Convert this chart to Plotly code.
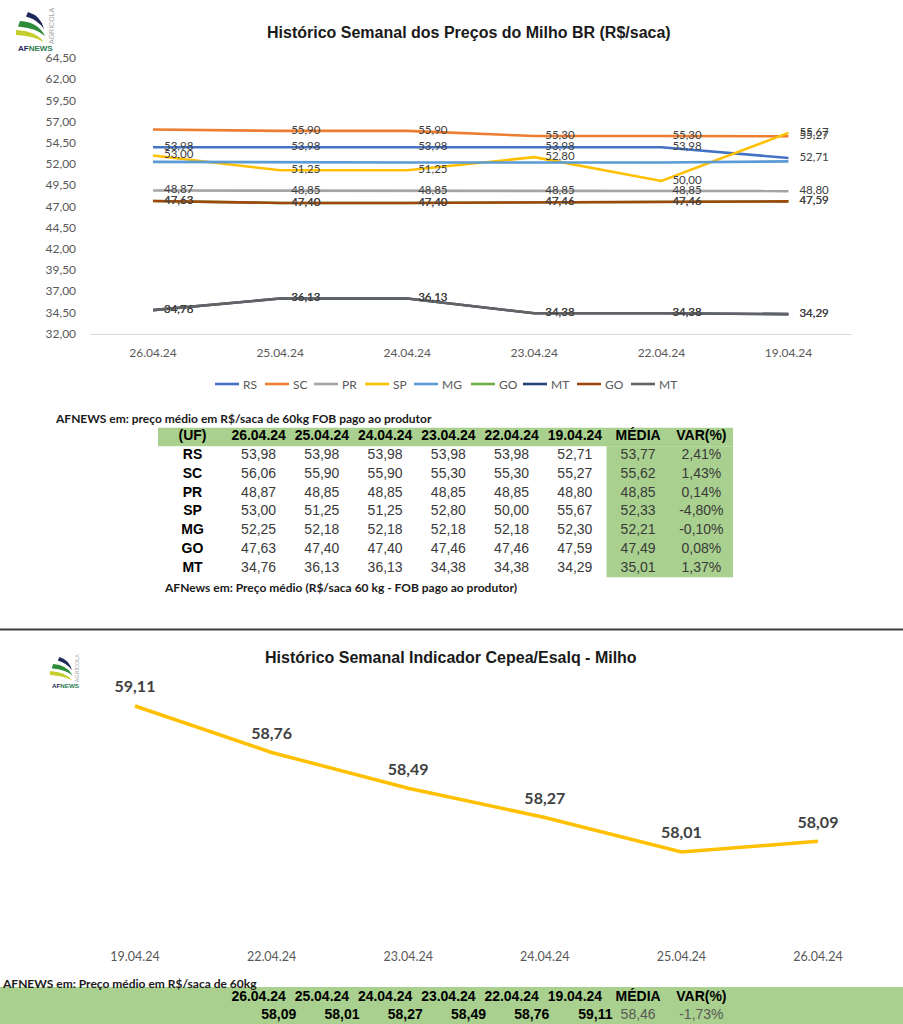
import plotly.graph_objects as go

W, H = 903, 1024


def X(px):
    return min(max(px / W, 0), 1)


def Y(py):
    return min(max(1 - py / H, 0), 1)


def br(v, suffix=""):
    return f"{v:.2f}".replace(".", ",") + suffix


# ---------------- data ----------------
dates_top = ["26.04.24", "25.04.24", "24.04.24", "23.04.24", "22.04.24", "19.04.24"]
series_names = ["RS", "SC", "PR", "SP", "MG", "GO", "MT", "GO", "MT"]
rs = [53.98, 53.98, 53.98, 53.98, 53.98, 52.71]
sc = [56.06, 55.90, 55.90, 55.30, 55.30, 55.27]
pr = [48.87, 48.85, 48.85, 48.85, 48.85, 48.80]
sp = [53.00, 51.25, 51.25, 52.80, 50.00, 55.67]
mg = [52.25, 52.18, 52.18, 52.18, 52.18, 52.30]
go_vals = [47.63, 47.40, 47.40, 47.46, 47.46, 47.59]
mt = [34.76, 36.13, 36.13, 34.38, 34.38, 34.29]
y_ticks_top = [32.0, 34.5, 37.0, 39.5, 42.0, 44.5, 47.0, 49.5, 52.0, 54.5, 57.0, 59.5, 62.0, 64.5]

table_header = ["(UF)", "26.04.24", "25.04.24", "24.04.24", "23.04.24", "22.04.24", "19.04.24", "MÉDIA", "VAR(%)"]
table_states = ["RS", "SC", "PR", "SP", "MG", "GO", "MT"]
table_media = [53.77, 55.62, 48.85, 52.33, 52.21, 47.49, 35.01]
table_var = [2.41, 1.43, 0.14, -4.80, -0.10, 0.08, 1.37]

cepea_dates = ["19.04.24", "22.04.24", "23.04.24", "24.04.24", "25.04.24", "26.04.24"]
cepea_vals = [59.11, 58.76, 58.49, 58.27, 58.01, 58.09]
cepea_header = ["26.04.24", "25.04.24", "24.04.24", "23.04.24", "22.04.24", "19.04.24", "MÉDIA", "VAR(%)"]
cepea_row = [58.09, 58.01, 58.27, 58.49, 58.76, 59.11]
cepea_media = 58.46
cepea_var = -1.73

# ---------------- style / layout constants ----------------
colors = ["#4472C4", "#ED7D31", "#A5A5A5", "#FFC000", "#5B9BD5",
          "#70AD47", "#264478", "#9E480E", "#636363"]
legend_x_px = [215, 265, 314, 365, 414, 471, 523, 577, 631]   # legend entry starts (px)
GREEN = "#A9D08E"
CAL = "Lato, Carlito, Calibri, sans-serif"
ARIAL = "Liberation Sans, Arial, sans-serif"

fig = go.Figure()

# ---------------- top line chart ----------------
series_data = [rs, sc, pr, sp, mg, go_vals, mt, go_vals, mt]
label_mask = [
    [1] * 6,
    [0, 1, 1, 1, 1, 1],
    [1] * 6,
    [1] * 6,
    [0] * 6,
    [1] * 6,
    [1] * 6,
    [1] * 6,
    [1] * 6,
]
for name, vals, col, mask in zip(series_names, series_data, colors, label_mask):
    fig.add_trace(go.Scatter(
        x=dates_top, y=vals, name=name, mode="lines+markers+text",
        line=dict(color=col, width=2.6),
        marker=dict(size=16, color="rgba(0,0,0,0)"),
        text=[br(v) if m else "" for v, m in zip(vals, mask)],
        textposition="middle right",
        textfont=dict(family=CAL, size=11.5, color="#404040"),
        cliponaxis=False, hoverinfo="skip", showlegend=False,
        xaxis="x", yaxis="y",
    ))

# ---------------- bottom line chart ----------------
fig.add_trace(go.Scatter(
    x=cepea_dates, y=cepea_vals, mode="lines+markers+text",
    line=dict(color="#FFC000", width=3.5),
    marker=dict(size=14, color="rgba(0,0,0,0)"),
    text=[br(v) for v in cepea_vals], textposition="top center",
    textfont=dict(family=CAL, size=16, color="#404040", weight="bold"),
    cliponaxis=False, showlegend=False, hoverinfo="skip",
    xaxis="x2", yaxis="y2",
))

# ---------------- top table (text on hidden axes) ----------------
col_w = [69] + [63.25] * 8
edges = [0]
for w in col_w:
    edges.append(edges[-1] + w)
centers = [(edges[i] + edges[i + 1]) / 2 for i in range(len(col_w))]


def text_trace(xs, ys, texts, color, xa, ya, pos="middle center", size=14):
    return go.Scatter(
        x=xs, y=ys, mode="text", text=texts, textposition=pos,
        textfont=dict(family=ARIAL, size=size, color=color),
        showlegend=False, hoverinfo="skip", cliponaxis=False,
        xaxis=xa, yaxis=ya,
    )


fig.add_trace(text_trace(centers, [0] * len(table_header),
                         [f"<b>{h}</b>" for h in table_header], "#000000", "x3", "y3"))
fig.add_trace(text_trace([centers[0]] * len(table_states), list(range(1, 8)),
                         [f"<b>{s}</b>" for s in table_states], "#000000", "x3", "y3"))
for ci in range(6):
    fig.add_trace(text_trace([centers[ci + 1]] * 7, list(range(1, 8)),
                             [br(series_data[r][ci]) for r in range(7)], "#3A3A3A", "x3", "y3"))
fig.add_trace(text_trace([centers[7]] * 7, list(range(1, 8)),
                         [br(v) for v in table_media], "#3A3A3A", "x3", "y3"))
fig.add_trace(text_trace([centers[8]] * 7, list(range(1, 8)),
                         [br(v, "%") for v in table_var], "#3A3A3A", "x3", "y3"))

# ---------------- bottom table ----------------
fig.add_trace(text_trace(centers[1:], [0] * len(cepea_header),
                         [f"<b>{h}</b>" for h in cepea_header], "#000000", "x4", "y4"))
fig.add_trace(text_trace([edges[i + 2] + 6 for i in range(6)], [1] * 6,
                         [f"<b>{br(v)}</b>" for v in cepea_row], "#000000", "x4", "y4",
                         pos="middle left"))
fig.add_trace(text_trace([centers[7], centers[8]], [1, 1],
                         [br(cepea_media), br(cepea_var, "%")], "#595959", "x4", "y4"))

# ---------------- shapes ----------------
shapes = []
shapes.append(dict(type="rect", xref="x3", yref="y3", x0=0, x1=edges[-1], y0=-0.5, y1=0.5,
                   fillcolor=GREEN, line=dict(width=0), layer="below"))
shapes.append(dict(type="rect", xref="x3", yref="y3", x0=edges[7], x1=edges[-1], y0=0.5, y1=7.5,
                   fillcolor=GREEN, line=dict(width=0), layer="below"))
shapes.append(dict(type="rect", xref="paper", yref="paper", x0=0, x1=1, y0=0, y1=Y(987),
                   fillcolor=GREEN, line=dict(width=0), layer="below"))
shapes.append(dict(type="line", xref="paper", yref="paper", x0=0, x1=1, y0=Y(629.5), y1=Y(629.5),
                   line=dict(color="#3F3F3F", width=2)))

# custom legend (Excel style: short line sample + label)
legend_anns = []
for name, col, lx in zip(series_names, colors, legend_x_px):
    shapes.append(dict(type="line", xref="paper", yref="paper", x0=X(lx), x1=X(lx + 24),
                       y0=Y(384), y1=Y(384), line=dict(color=col, width=2.6)))
    legend_anns.append(dict(x=X(lx + 26), y=Y(384), xref="paper", yref="paper", xanchor="left",
                            yanchor="middle", showarrow=False, text=name,
                            font=dict(family=CAL, size=12, color="#595959")))


def logo(ox, oy, s):
    crescents = [
        ("#1F2A5C", [(20, 8), (33, 12), (36, 25), (30, 16), (18, 12.5)]),
        ("#2E8B3A", [(12, 17), (30, 18), (37, 32), (28, 24), (10, 22.5)]),
        ("#C5CD2C", [(8, 26), (28, 27), (36, 38), (26, 32), (8, 31)]),
    ]
    out = []
    for colr, pts in crescents:
        p = [(X(ox + s * a), Y(oy + s * b)) for a, b in pts]
        path = (f"M {p[0][0]:.5f},{p[0][1]:.5f} Q {p[1][0]:.5f},{p[1][1]:.5f} {p[2][0]:.5f},{p[2][1]:.5f} "
                f"Q {p[3][0]:.5f},{p[3][1]:.5f} {p[4][0]:.5f},{p[4][1]:.5f} Z")
        out.append(dict(type="path", xref="paper", yref="paper", path=path,
                        fillcolor=colr, line=dict(width=0)))
    anns = [
        dict(x=X(ox + s * 8), y=Y(oy + s * 44), xref="paper", yref="paper", xanchor="left", yanchor="middle",
             text="<b>AF<span style='color:#2E7D4F'>NEWS</span></b>", showarrow=False,
             font=dict(family=ARIAL, size=8 * s, color="#1F2A5C")),
        dict(x=X(ox + s * 43), y=Y(oy + s * 22), xref="paper", yref="paper", xanchor="center", yanchor="middle",
             text="AGRÍCOLA", textangle=-90, showarrow=False,
             font=dict(family=ARIAL, size=7 * s, color="#A6A6A6")),
    ]
    return out, anns


l1s, l1a = logo(8, 4, 1.0)
l2s, l2a = logo(43.8, 650.8, 0.78)
shapes += l1s + l2s

annotations = [
    dict(x=X(469), y=Y(32), xref="paper", yref="paper", showarrow=False, yanchor="middle",
         text="<b>Histórico Semanal dos Preços do Milho BR (R$/saca)</b>",
         font=dict(family=ARIAL, size=16, color="#1A1A1A")),
    dict(x=X(451), y=Y(657), xref="paper", yref="paper", showarrow=False, yanchor="middle",
         text="<b>Histórico Semanal Indicador Cepea/Esalq - Milho</b>",
         font=dict(family=ARIAL, size=16, color="#1A1A1A")),
    dict(x=X(53), y=Y(418), xref="paper", yref="paper", showarrow=False, xanchor="left", yanchor="middle",
         text="<b>AFNEWS em: preço médio em R$/saca de 60kg FOB pago ao produtor</b>",
         font=dict(family=CAL, size=12, color="#1A1A1A")),
    dict(x=X(162), y=Y(587), xref="paper", yref="paper", showarrow=False, xanchor="left", yanchor="middle",
         text="<b>AFNews em: Preço médio (R$/saca 60 kg - FOB pago ao produtor)</b>",
         font=dict(family=CAL, size=12, color="#1A1A1A")),
    dict(x=X(0), y=Y(983), xref="paper", yref="paper", showarrow=False, xanchor="left", yanchor="middle",
         text="<b>AFNEWS em: Preço médio em R$/saca de 60kg</b>",
         font=dict(family=CAL, size=12, color="#1A1A1A")),
] + legend_anns + l1a + l2a

fig.update_layout(
    width=W, height=H, margin=dict(l=0, r=0, t=0, b=0, autoexpand=False),
    paper_bgcolor="white", plot_bgcolor="white",
    showlegend=False,
    xaxis=dict(domain=[X(89.5), X(852)], anchor="y", type="category", range=[-0.5, 5.5],
               showgrid=False, showline=True, linecolor="#D9D9D9", linewidth=1, zeroline=False,
               ticks="outside", ticklen=8, tickcolor="rgba(0,0,0,0)", automargin=False,
               tickfont=dict(family=CAL, size=12, color="#595959"), fixedrange=True),
    yaxis=dict(domain=[Y(333.5), Y(58)], anchor="x", range=[31.999, 64.501],
               tickvals=y_ticks_top, ticktext=[br(v) for v in y_ticks_top],
               showgrid=False, zeroline=False, showline=False, automargin=False,
               ticks="outside", ticklen=10, tickcolor="rgba(0,0,0,0)",
               tickfont=dict(family=CAL, size=12, color="#595959"), fixedrange=True),
    xaxis2=dict(domain=[X(66.7), X(886.3)], anchor="y2", type="category", range=[-0.5, 5.5],
                showgrid=False, showline=False, zeroline=False, ticks="outside", ticklen=2,
                automargin=False, tickcolor="rgba(0,0,0,0)",
                tickfont=dict(family=CAL, size=12.5, color="#595959"), fixedrange=True),
    yaxis2=dict(domain=[Y(943), Y(680)], anchor="x2", range=[57.324, 59.306],
                visible=False, fixedrange=True),
    xaxis3=dict(domain=[X(158), X(733)], anchor="y3", range=[0, edges[-1]], visible=False, fixedrange=True),
    yaxis3=dict(domain=[Y(577.5), Y(427.5)], anchor="x3", range=[7.5, -0.5], visible=False, fixedrange=True),
    xaxis4=dict(domain=[X(158), X(733)], anchor="y4", range=[0, edges[-1]], visible=False, fixedrange=True),
    yaxis4=dict(domain=[0, Y(989)], anchor="x4", range=[1.5, -0.5], visible=False, fixedrange=True),
    shapes=shapes, annotations=annotations,
)

fig.write_html(
    "out.html",
    config={"displayModeBar": False, "responsive": False},
    post_script="document.body.style.margin='0px';document.body.style.padding='0px';"
                "document.documentElement.style.overflow='hidden';",
)
